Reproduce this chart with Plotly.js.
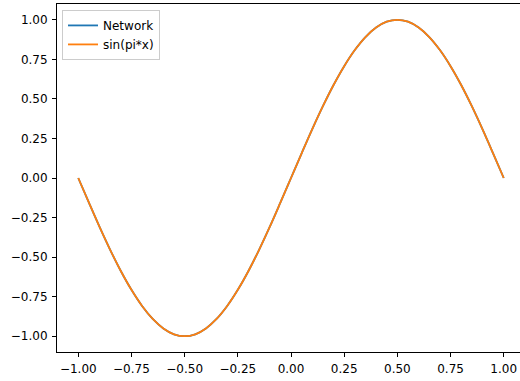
<!DOCTYPE html>
<html>
<head>
<meta charset="utf-8">
<script src="https://cdn.plot.ly/plotly-3.0.1.min.js"></script>
<style>
html, body { margin: 0; padding: 0; overflow: hidden; background: #fff; }
#chart { width: 525px; height: 381px; }
</style>
</head>
<body>
<div id="chart"></div>
<script>
var xValues = [-1.00,-0.95,-0.90,-0.85,-0.80,-0.75,-0.70,-0.65,-0.60,-0.55,-0.50,-0.45,-0.40,-0.35,-0.30,-0.25,-0.20,-0.15,-0.10,-0.05,0.00,0.05,0.10,0.15,0.20,0.25,0.30,0.35,0.40,0.45,0.50,0.55,0.60,0.65,0.70,0.75,0.80,0.85,0.90,0.95,1.00];
var networkValues = [0.000,-0.156,-0.309,-0.454,-0.588,-0.707,-0.809,-0.891,-0.951,-0.988,-1.000,-0.988,-0.951,-0.891,-0.809,-0.707,-0.588,-0.454,-0.309,-0.156,0.000,0.156,0.309,0.454,0.588,0.707,0.809,0.891,0.951,0.988,1.000,0.988,0.951,0.891,0.809,0.707,0.588,0.454,0.309,0.156,0.000];
var sinValues = [0.000,-0.156,-0.309,-0.454,-0.588,-0.707,-0.809,-0.891,-0.951,-0.988,-1.000,-0.988,-0.951,-0.891,-0.809,-0.707,-0.588,-0.454,-0.309,-0.156,0.000,0.156,0.309,0.454,0.588,0.707,0.809,0.891,0.951,0.988,1.000,0.988,0.951,0.891,0.809,0.707,0.588,0.454,0.309,0.156,0.000];
var tickVals = [-1.00,-0.75,-0.50,-0.25,0.00,0.25,0.50,0.75,1.00];
var seriesNames = ['Network', 'sin(pi*x)'];

var traces = [
  {x: xValues, y: networkValues, type: 'scatter', mode: 'lines', name: seriesNames[0],
   line: {color: '#1f77b4', width: 1.8, shape: 'spline'}},
  {x: xValues, y: sinValues, type: 'scatter', mode: 'lines', name: seriesNames[1],
   line: {color: '#ff7f0e', width: 1.8, shape: 'spline'}}
];

var axisCommon = {
  showgrid: false, zeroline: false,
  showline: true, linecolor: '#000', linewidth: 1, mirror: true,
  ticks: 'outside', ticklen: 4, tickwidth: 1, tickcolor: '#000',
  tickvals: tickVals, tickformat: '.2f',
  tickfont: {family: 'DejaVu Sans', size: 12, color: '#000'}
};

var layout = {
  width: 525, height: 381,
  margin: {l: 57, r: 0, t: 4, b: 29},
  paper_bgcolor: '#fff', plot_bgcolor: '#fff',
  showlegend: true,
  legend: {
    x: 0.0107, y: 0.983, xanchor: 'left', yanchor: 'top',
    bgcolor: 'rgba(255,255,255,0.8)', bordercolor: '#cccccc', borderwidth: 1,
    font: {family: 'DejaVu Sans', size: 12, color: '#000'},
    tracegroupgap: 0
  },
  xaxis: Object.assign({}, axisCommon, {range: [-1.1, 1.1], ticklabelstandoff: 2}),
  yaxis: Object.assign({}, axisCommon, {range: [-1.1, 1.1], ticklabelstandoff: 2})
};

Plotly.newPlot('chart', traces, layout, {displayModeBar: false, staticPlot: true});
</script>
</body>
</html>
